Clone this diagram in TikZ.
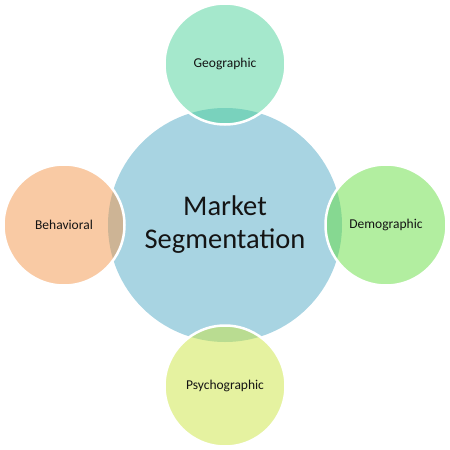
\documentclass[tikz,border=0pt]{standalone}
\usepackage{fontspec}
\setmainfont{Carlito}
\usetikzlibrary{positioning}

\definecolor{segBlue}{RGB}{168,212,226}
\definecolor{geoGreen}{RGB}{75,209,153}
\definecolor{behOrange}{RGB}{243,149,73}
\definecolor{demGreen}{RGB}{101,221,65}
\definecolor{psyYellow}{RGB}{203,229,65}
\definecolor{labelInk}{RGB}{20,20,20}

\begin{document}
\begin{tikzpicture}[
    x=1pt, y=-1pt,
    every node/.style={text=labelInk},
    core/.style={circle, fill=segBlue, minimum size=234pt, inner sep=0pt, align=center, font=\fontsize{28.5}{33}\selectfont},
    facet/.style={circle, draw=white, line width=2.5pt, fill opacity=0.5, draw opacity=1, text opacity=1, minimum size=121pt, inner sep=0pt, font=\fontsize{13.5}{16}\selectfont}
]
    \useasboundingbox (0,0) rectangle (450,450);

    % Centre
    \node[core] (seg) at (225,225) {Market\\Segmentation};

    % Segments
    \node[facet, fill=geoGreen] (geo) at (225,64) {Geographic};
    \node[facet, fill=behOrange] (beh) at (64,225) {Behavioral};
    \node[facet, fill=demGreen] (dem) at (386,225) {Demographic};
    \node[facet, fill=psyYellow] (psy) at (225,386) {Psychographic};

\end{tikzpicture}
\end{document}
